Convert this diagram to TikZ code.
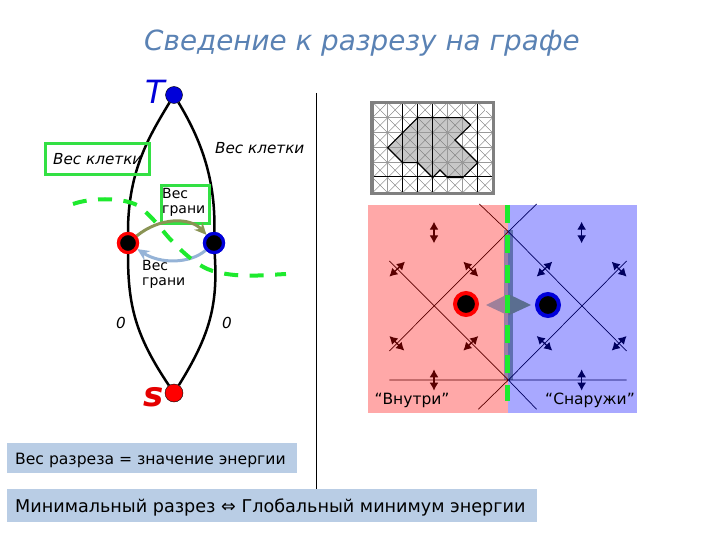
\documentclass[tikz,border=0pt]{standalone}
\usepackage{fontspec}
\setmainfont{DejaVu Sans}
\usetikzlibrary{arrows.meta}
\definecolor{titleblue}{HTML}{5A82B4}
\definecolor{gr}{HTML}{1EEA2E}
\definecolor{boxgreen}{HTML}{33E044}
\definecolor{panelred}{HTML}{FFA8A8}
\definecolor{panelblue}{HTML}{A8A8FF}
\definecolor{stripL}{HTML}{9A7FA8}
\definecolor{stripR}{HTML}{5F6FB0}
\definecolor{diaL}{HTML}{A0809A}
\definecolor{diaR}{HTML}{5A6E90}
\definecolor{boxblue}{HTML}{B9CDE5}
\definecolor{olive}{HTML}{8A9455}
\definecolor{lblue}{HTML}{95B3D7}
\definecolor{dred}{HTML}{5A0000}
\definecolor{dblue}{HTML}{000060}
\tikzset{
  edgeline/.style={line width=2.5pt,black},
  greenbox/.style={draw=boxgreen,line width=2.8pt,inner sep=0pt,anchor=north west},
  cut/.style={draw=gr,line width=4pt,dash pattern=on 14pt off 11.5pt},
  vcut/.style={draw=gr,line width=4.6pt,dash pattern=on 18pt off 12pt},
  term/.style={circle,draw=black,line width=.4pt,minimum size=17pt,inner sep=0pt},
  pix/.style={circle,fill=black,line width=3.2pt,minimum size=19pt,inner sep=0pt},
  pixbig/.style={circle,fill=black,line width=4pt,minimum size=22pt,inner sep=0pt},
  txt/.style={font=\fontsize{14}{15}\selectfont,inner sep=0pt,align=left},
  ital/.style={font=\fontsize{15.2}{16}\selectfont\itshape,inner sep=0pt},
  band/.style={fill=boxblue,anchor=north west,inner sep=0pt},
  thinl/.style={line width=.7pt},
  dbl/.style={line width=1.3pt,{Latex[length=8pt,width=9pt]}-{Latex[length=8pt,width=9pt]}}
}
\begin{document}
\begin{tikzpicture}[x=1pt,y=-1pt]
\useasboundingbox (0,0) rectangle (720,540);
\fill[white] (0,0) rectangle (720,540);
\node[text=titleblue,font=\fontsize{27.8}{29}\selectfont\itshape,inner sep=0pt] (title) at (362,43) {Сведение к разрезу на графе};
% divider
\coordinate (divT) at (316,93); \coordinate (divB) at (316,489);
\draw[line width=.8pt] (divT) -- (divB);
% graph terminals
\node[term,fill=blue!85!black,draw=black] (T) at (174,95) {};
\node[term,fill=red,minimum size=18pt] (S) at (174,393) {};
\node[pix,draw=red] (R) at (128,243) {};
\node[pix,draw=blue!85!black] (B) at (214,243) {};
% edges
\draw[edgeline] (T) .. controls (150,135) and (128,170) .. (R);
\draw[edgeline] (T) .. controls (198,135) and (216,175) .. (B);
\draw[edgeline] (R) .. controls (128,305) and (135,335) .. (S);
\draw[edgeline] (B) .. controls (218,305) and (210,335) .. (S);
% boxes
\node[greenbox,minimum width=104pt,minimum height=31pt] (b1) at (44,142) {};
\node[ital,anchor=west] (l1) at (53,159) {Вес клетки};
\node[ital,anchor=west] (l2) at (215,148) {Вес клетки};
\node[greenbox,minimum width=48pt,minimum height=38pt] (b2) at (160,184) {};
\node[txt,anchor=north west] (l3) at (162,188) {Вес\\грани};
\node[txt,anchor=north west] (l4) at (142,260) {Вес\\грани};
% cross edges
\draw[olive,line width=3pt,-{Stealth[length=12pt,width=11pt]}] (R) .. controls (160,217) and (190,217) .. (B);
\draw[lblue,line width=3pt,-{Stealth[length=12pt,width=11pt]}] (B) .. controls (190,264) and (160,264) .. (R);
\node[pix,draw=red] at (R) {};
\node[pix,draw=blue!85!black] at (B) {};
% cut
\coordinate (c0) at (73,204);\coordinate (c9) at (286,274);
\draw[cut] (c0) .. controls (90,198) and (120,197) .. (137,205) .. controls (155,218) and (165,235) .. (173,242) .. controls (190,260) and (205,270) .. (217,272) .. controls (240,278) and (265,275) .. (c9);
% labels
\node[text=blue!85!black,font=\fontsize{32}{32}\selectfont\itshape,inner sep=0pt] (tT) at (155,92) {T};
\node[text=red!90!black,font=\fontsize{34}{34}\selectfont\bfseries\itshape,inner sep=0pt] (tS) at (154,397) {s};
\node[ital] (z1) at (121,323) {0};
\node[ital] (z2) at (227,323) {0};
% bottom bands
\node[band,minimum width=290pt,minimum height=30pt] (b3) at (7,443) {};
\node[txt,anchor=west,font=\fontsize{15.6}{16}\selectfont] (t3) at (15,460) {Вес разреза = значение энергии};
\node[band,minimum width=530pt,minimum height=33pt] (b4) at (7,489) {};
\node[txt,anchor=west,font=\fontsize{17.6}{18}\selectfont] (t4) at (15,507) {Минимальный разрез ⇔ Глобальный минимум энергии};
% thumbnail
\begin{scope}[shift={(360,95)},x=.3333pt,y=-.3333pt]
 \fill[white] (38,22) rectangle (398,293);
 \foreach \x in {38,83,...,353}{\foreach \y in {22,68,113,158,203,248}{
   \draw[line width=.35pt,black!55] (\x,\y) -- ++(45,45.5) (\x+45,\y) -- ++(-45,45.5);}}
 \fill[black!22] (173,68)--(308,68)--(332,90)--(285,135)--(353,203)--(308,248)--(263,248)--(240,225)--(218,248)--(173,203)--(128,203)--(83,158)--cycle;
 \begin{scope}
 \clip (173,68)--(308,68)--(332,90)--(285,135)--(353,203)--(308,248)--(263,248)--(240,225)--(218,248)--(173,203)--(128,203)--(83,158)--cycle;
 \foreach \x in {83,128,...,353}{\foreach \y in {68,113,158,203}{
   \draw[line width=.35pt,black!55] (\x,\y) -- ++(45,45.5) (\x+45,\y) -- ++(-45,45.5);}}
 \end{scope}
 \foreach \y in {68,113,158,203}{\draw[line width=.4pt,black!40] (38,\y) -- (398,\y);}
 \foreach \x in {83,263,308}{\draw[line width=.4pt,black!40] (\x,22) -- (\x,293);}
 \foreach \x in {128,173,218,353}{\draw[line width=.8pt] (\x,22) -- (\x,293);}
 \draw[line width=.8pt] (38,245) -- (398,245);
 \draw[line width=1.1pt] (173,68)--(308,68)--(332,90)--(285,135)--(353,203)--(308,248)--(263,248)--(240,225)--(218,248)--(173,203)--(128,203)--(83,158)--cycle;
 \fill[white] (375,25) rectangle (398,48);
 \draw[black!50,line width=3.2pt] (36,22) rectangle (401,295);
\end{scope}
% energy panel
\fill[panelred] (368,205) rectangle (508.3,413);
\fill[panelblue] (508.3,205) rectangle (637,413);
\fill[stripL] (504,230) rectangle (508.3,380);
\fill[stripR] (508.3,230) rectangle (513,380);
\begin{scope}[shift={(360,200)},x=.3333pt,y=-.3333pt]
 \draw[dred,thinl] (358,12)--(445,95) (445,95)--(88,453) (88,183)--(445,540) (355,628)--(445,540) (88,540)--(445,540);
 \draw[dblue,thinl] (530,12)--(445,95) (445,95)--(800,453) (800,183)--(445,540) (445,540)--(530,628) (445,540)--(800,540);
 \foreach \a/\b/\c/\d in {222/65/222/130,222/508/222/572,88/230/135/185,310/185/355/230,88/408/133/452,310/452/355/408}
   \draw[dred,dbl] (\a,\b)--(\c,\d);
 \foreach \a/\b/\c/\d in {665/65/665/130,665/508/665/572,530/230/577/185,755/185/800/230,530/408/577/452,755/452/800/408}
   \draw[dblue,dbl] (\a,\b)--(\c,\d);
\end{scope}
\fill[diaL] (486,305)--(508.3,294)--(508.3,315.5)--cycle;
\fill[diaR] (531,305)--(508.3,294)--(508.3,315.5)--cycle;
\coordinate (vT) at (507.5,205); \coordinate (vB) at (507.5,401);
\draw[vcut] (vT) -- (vB);
\node[pixbig,draw=red] (R2) at (466,304) {};
\node[pixbig,draw=blue!85!black] (B2) at (548,305) {};
\node[txt,font=\fontsize{15.5}{16}\selectfont] (in) at (412,400) {“Внутри”};
\node[txt,font=\fontsize{15.5}{16}\selectfont] (out) at (590,400) {“Снаружи”};
\end{tikzpicture}
\end{document}
